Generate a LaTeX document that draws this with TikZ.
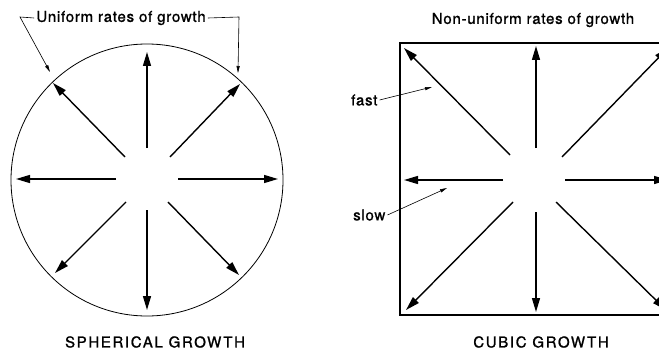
\documentclass[tikz,border=0pt]{standalone}
\usepackage{fontspec}
\setmainfont{TeX Gyre Heros}
\newfontfamily\lowlab[LetterSpace=5,FakeBold=1.2]{TeX Gyre Heros}
\newfontfamily\caplab[LetterSpace=11,FakeBold=1.2]{TeX Gyre Heros}
\usetikzlibrary{arrows.meta}
\begin{document}
\begin{tikzpicture}[x=1pt,y=-1pt,
  growarrow/.style={line width=1.4pt,-{Triangle[length=14pt,width=8pt]}},
  leader/.style={line width=0.6pt,-{Triangle[length=7pt,width=3.2pt]}},
  outline/.style={line width=0.8pt},
  lowtext/.style={font=\lowlab\fontsize{15}{18}\selectfont,inner sep=0pt},
  captext/.style={font=\caplab\fontsize{15}{18}\selectfont,inner sep=0pt}]
\useasboundingbox (0,0) rectangle (659,353);
\clip (0,0) rectangle (659,353);
\fill[white] (0,0) rectangle (659,353);
% ---- spherical growth ----
\draw[outline] (147,180) circle[radius=136];
\foreach \sx/\sy/\tx/\ty in {147/148/147/52, 125/157/53/83, 170/157/240/84,
  116/179/16/179, 178/179/278/179, 126/202/55/273, 147/210/147/310, 168/202/239/275}
  \draw[growarrow] (\sx,\sy) -- (\tx,\ty);
\node[lowtext] (uni) at (121,18) {Uniform rates of growth};
\coordinate (uniL) at (50,72);
\coordinate (uniR) at (238,73);
\draw[leader] ([xshift=-2pt]uni.west) -- (20,17) -- (uniL);
\draw[leader] ([xshift=2pt]uni.east) -- (239,17) -- (uniR);
\node[captext] (sph) at (155,342) {SPHERICAL GROWTH};
% ---- cubic growth ----
\draw[line width=1.1pt] (400,43) rectangle (672,315);
\foreach \sx/\sy/\tx/\ty in {536/148/536/46, 510/155/404/48, 562/157/668/48,
  503/180/404/180, 565/180/668/180, 513/202/406/310, 536/212/536/312, 556/202/666/310}
  \draw[growarrow] (\sx,\sy) -- (\tx,\ty);
\node[lowtext] (non) at (533,20) {Non-uniform rates of growth};
\node[lowtext,anchor=west] (fast) at (351,100) {fast};
\node[lowtext,anchor=west] (slow) at (353,215) {slow};
\coordinate (fastT) at (432,87);
\coordinate (slowT) at (447,188);
\draw[leader] ([xshift=2pt]fast.east) -- (fastT);
\draw[leader] ([xshift=2pt]slow.east) -- (slowT);
\node[captext] (cub) at (541,342) {CUBIC GROWTH};
\end{tikzpicture}
\end{document}
